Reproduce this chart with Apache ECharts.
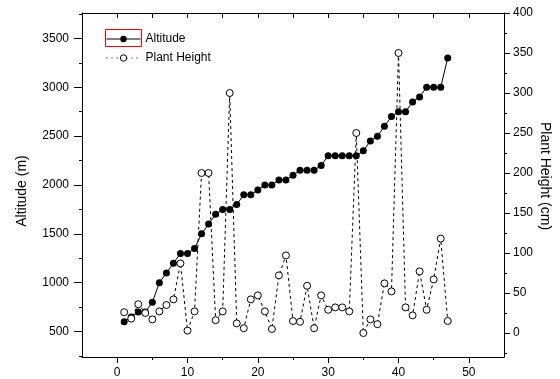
<!DOCTYPE html>
<html>
<head>
<meta charset="utf-8">
<script src="https://cdn.jsdelivr.net/npm/echarts@6/dist/echarts.min.js"></script>
<style>
html, body {margin: 0; padding: 0; background: #fff;}
#chart {width: 560px; height: 379px;}
</style>
</head>
<body>
<div id="chart"></div>
<script>
// sample number along x
var sampleNo = [1, 2, 3, 4, 5, 6, 7, 8, 9, 10, 11, 12, 13, 14, 15, 16, 17, 18, 19, 20,
	21, 22, 23, 24, 25, 26, 27, 28, 29, 30, 31, 32, 33, 34, 35, 36, 37, 38, 39, 40,
	41, 42, 43, 44, 45, 46, 47];
// altitude (m), left axis
var altitude = [600, 650, 700, 700, 800, 1000, 1100, 1200, 1300, 1300, 1350, 1500, 1600, 1700, 1750, 1750,
	1800, 1900, 1900, 1950, 2000, 2000, 2050, 2050, 2100, 2150, 2150, 2150, 2200, 2300, 2300, 2300,
	2300, 2300, 2350, 2450, 2500, 2600, 2700, 2750, 2750, 2850, 2900, 3000, 3000, 3000, 3300];
// plant height (cm), right axis
var plantHeight = [26, 18, 36, 25, 17, 27, 35, 42, 87, 3, 27, 200, 200, 16, 27, 300,
	12, 6, 42, 47, 27, 5, 72, 97, 15, 14, 59, 6, 47, 29, 32, 32,
	27, 250, 0, 17, 11, 62, 52, 350, 32, 22, 77, 29, 67, 118, 15];

// tick labels / tick positions
var xMajor = [0, 10, 20, 30, 40, 50];
var xMinor = [5, 15, 25, 35, 45];
var xTop = [0, 5, 10, 15, 20, 25, 30, 35, 40, 45, 50];
var altMajor = [500, 1000, 1500, 2000, 2500, 3000, 3500];
var altMinor = [250, 750, 1250, 1750, 2250, 2750, 3250, 3750];
var phMajor = [0, 50, 100, 150, 200, 250, 300, 350, 400];
var phMinor = [-25, 25, 75, 125, 175, 225, 275, 325, 375];

var FONT = '"Liberation Sans", Arial, sans-serif';
var black = {color: '#000', width: 1};

function pairs(xs, ys){
	var out = [];
	for (var i = 0; i < xs.length; i++){
		out.push([xs[i], ys[i]]);
	}
	return out;
}

function plain(v){
	return String(v);
}

function tickAxis(pos, min, max, ticks, len, inside, showLine){
	// extra axis only used to draw a set of ticks
	return {
		type: 'value', position: pos, min: min, max: max,
		axisLine: {show: showLine, onZero: false, lineStyle: black},
		axisTick: {show: true, inside: inside, length: len, customValues: ticks, lineStyle: black},
		axisLabel: {show: false},
		splitLine: {show: false}
	};
}

var chart = echarts.init(document.getElementById('chart'));
var option = {
	animation: false,
	backgroundColor: '#fff',
	grid: {left: 82, right: 56, top: 13, bottom: 21, containLabel: false},
	legend: {
		orient: 'vertical',
		left: 106, top: 33, padding: 0,
		itemWidth: 34, itemHeight: 8, itemGap: 7,
		lineStyle: {width: 1},
		itemStyle: {borderWidth: 1},
		textStyle: {fontFamily: FONT, fontSize: 12, color: '#000'},
		data: [
			{name: 'Altitude'},
			{name: 'Plant Height', lineStyle: {width: 1, type: [1, 4]}}
		]
	},
	xAxis: [
		{
			type: 'value', position: 'bottom', min: -5, max: 55,
			axisLine: {onZero: false, lineStyle: black},
			axisTick: {length: 6, customValues: xMajor, lineStyle: black},
			axisLabel: {customValues: xMajor, margin: 10, formatter: plain, fontFamily: FONT, fontSize: 12, color: '#000'},
			splitLine: {show: false}
		},
		tickAxis('bottom', -5, 55, xMinor, 3, false, false),
		tickAxis('top', -5, 55, xTop, 5, true, true)
	],
	yAxis: [
		{
			type: 'value', position: 'left', min: 240, max: 3760,
			axisLine: {show: true, onZero: false, lineStyle: black},
			axisTick: {length: 8, customValues: altMajor, lineStyle: black},
			axisLabel: {customValues: altMajor, margin: 13, formatter: plain, fontFamily: FONT, fontSize: 12, color: '#000'},
			splitLine: {show: false}
		},
		tickAxis('left', 240, 3760, altMinor, 3, false, false),
		{
			type: 'value', position: 'right', min: -30, max: 400,
			axisLine: {show: true, onZero: false, lineStyle: black},
			axisTick: {length: 6, customValues: phMajor, lineStyle: black},
			axisLabel: {customValues: phMajor, margin: 9, formatter: plain, fontFamily: FONT, fontSize: 12, color: '#000'},
			splitLine: {show: false}
		},
		tickAxis('right', -30, 400, phMinor, 3, false, false)
	],
	graphic: [
		{type: 'rect', shape: {x: 105.5, y: 29.5, width: 36, height: 17}, style: {fill: null, stroke: '#ff0000', lineWidth: 1}, z: 100},
		{type: 'text', x: 22.5, y: 191, rotation: Math.PI / 2,
			style: {text: 'Altitude (m)', font: '14px ' + FONT, fill: '#000', textAlign: 'center', textVerticalAlign: 'middle'}},
		{type: 'text', x: 545, y: 176, rotation: -Math.PI / 2,
			style: {text: 'Plant Height (cm)', font: '14px ' + FONT, fill: '#000', textAlign: 'center', textVerticalAlign: 'middle'}}
	],
	series: [
		{
			name: 'Altitude', type: 'line',
			xAxisIndex: 0, yAxisIndex: 0,
			data: pairs(sampleNo, altitude),
			symbol: 'circle', symbolSize: 7,
			itemStyle: {color: '#000'},
			lineStyle: {color: '#000', width: 1, type: 'solid'}
		},
		{
			name: 'Plant Height', type: 'line',
			xAxisIndex: 0, yAxisIndex: 2,
			data: pairs(sampleNo, plantHeight),
			symbol: 'circle', symbolSize: 7,
			itemStyle: {color: '#fff', borderColor: '#000', borderWidth: 1},
			lineStyle: {color: '#000', width: 1, type: [3, 3]}
		}
	]
};
chart.setOption(option);
</script>
</body>
</html>
